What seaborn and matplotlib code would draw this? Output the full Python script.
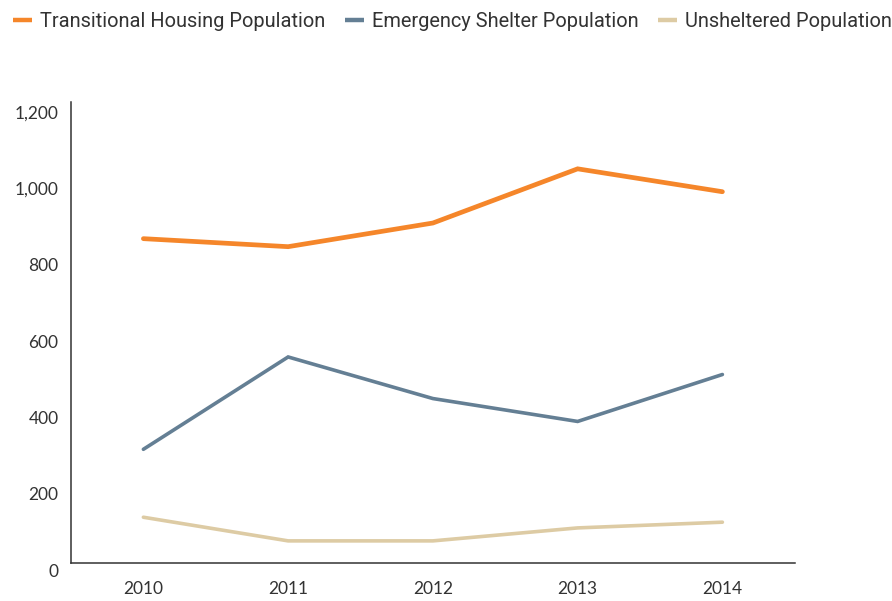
import matplotlib
matplotlib.use('Agg')
import matplotlib.pyplot as plt
import matplotlib.transforms as mtransforms
from matplotlib.lines import Line2D
from matplotlib import font_manager
import pandas as pd
import seaborn as sns

# ── data ─────────────────────────────────────────────────────────────
years = [2010, 2011, 2012, 2013, 2014]
transitional = [850, 829, 891, 1033, 973]
emergency = [298, 540, 431, 371, 494]
unsheltered = [120, 58, 58, 92, 107]

series_names = ['Transitional Housing Population',
                'Emergency Shelter Population',
                'Unsheltered Population']
y_ticks = [0, 200, 400, 600, 800, 1000, 1200]

colors = ['#F5862A', '#647F94', '#DDCBA4']
widths = [3.4, 2.6, 2.6]

df = pd.DataFrame({
    'year': years * 3,
    'value': transitional + emergency + unsheltered,
    'series': [s for s in series_names for _ in years],
})

sns.set_style('white')
installed = {f.name for f in font_manager.fontManager.ttflist}
tick_font = 'Lato' if 'Lato' in installed else 'DejaVu Sans'
legend_font = 'Roboto' if 'Roboto' in installed else 'DejaVu Sans'
plt.rcParams['font.family'] = [tick_font, 'DejaVu Sans']

fig = plt.figure(figsize=(8.92, 6.01), dpi=100)
ax = fig.add_axes([0.0796, 0.0632, 0.8114, 0.7670])

sns.lineplot(data=df, x='year', y='value', hue='series',
             palette=dict(zip(series_names, colors)), ax=ax, legend=False)
for line, lw in zip(ax.get_lines(), widths):
    line.set_linewidth(lw)
    line.set_solid_capstyle('round')
    line.set_solid_joinstyle('miter')

ax.set_xlim(2009.5, 2014.5)
ax.set_ylim(0, 1208)
ax.set_xticks(years)
ax.set_xticklabels([str(y) for y in years])
ax.set_yticks(y_ticks)
ax.set_yticklabels([f'{v:,}' for v in y_ticks])
ax.set_xlabel('')
ax.set_ylabel('')
ax.tick_params(axis='both', length=0, labelsize=12.5, colors='#333333')
ax.tick_params(axis='y', pad=9)
ax.tick_params(axis='x', pad=13)

# y labels sit a little below their values in the original
offset = mtransforms.ScaledTranslation(0, -0.07, fig.dpi_scale_trans)
for lab in ax.get_yticklabels():
    lab.set_transform(lab.get_transform() + offset)

for side in ['top', 'right']:
    ax.spines[side].set_visible(False)
for side in ['left', 'bottom']:
    ax.spines[side].set_color('#333333')
    ax.spines[side].set_linewidth(1.1)

handles = [Line2D([0], [0], color=c, lw=3.2, solid_capstyle='butt') for c in colors]
leg = fig.legend(handles, series_names, loc='upper left',
                 bbox_to_anchor=(0.004, 0.995), borderaxespad=0.0, borderpad=0.45,
                 ncol=3, frameon=False, handlelength=0.95, handletextpad=0.4,
                 columnspacing=1.0, prop={'family': legend_font, 'size': 14.4},
                 labelcolor='#333333')

fig.savefig('out.png', dpi=100)
